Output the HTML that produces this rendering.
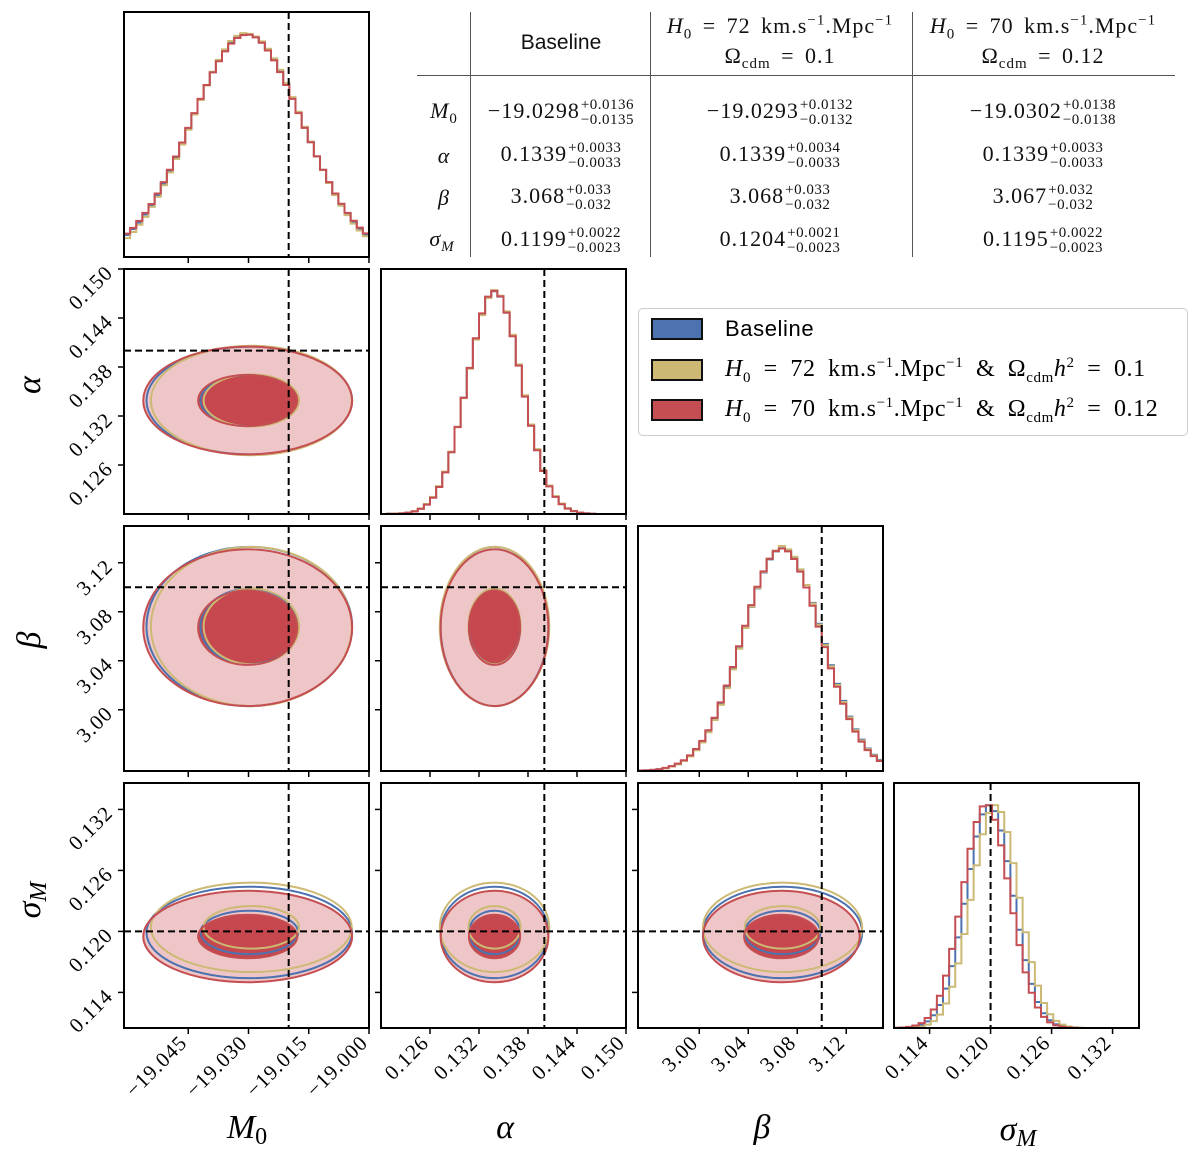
<!DOCTYPE html>
<html><head><meta charset="utf-8">
<style>
body{margin:0;background:#fff;width:1200px;height:1152px;position:relative;overflow:hidden;font-family:"Liberation Serif","DejaVu Serif",serif;}
svg{position:absolute;left:0;top:0}
.t{position:absolute;font-size:22px;color:#111;white-space:nowrap;transform:translate(-50%,-50%);letter-spacing:1px;word-spacing:4px}
.ss{display:inline-flex;flex-direction:column;font-size:15px;line-height:15px;vertical-align:middle;margin-left:1px;letter-spacing:0.5px}
.sans{font-family:"Liberation Sans",sans-serif;letter-spacing:0}
i{font-style:italic}
sub,sup{font-size:15px}
.leg{position:absolute;left:638px;top:308px;width:548px;height:126px;border:1px solid #ccc;border-radius:5px;background:#fff}
.le{position:absolute;left:12px;width:52px;height:22px;border:2px solid #111;box-sizing:border-box}
.lt{position:absolute;left:86px;font-size:24px;white-space:nowrap;letter-spacing:0.6px;word-spacing:6px}
</style></head><body>
<svg id="chart" width="1200" height="1152"></svg>

<div>
<div style="position:absolute;left:417px;top:75px;width:758px;height:1px;background:#555"></div>
<div style="position:absolute;left:470px;top:12px;width:1px;height:245px;background:#555"></div>
<div style="position:absolute;left:650px;top:12px;width:1px;height:245px;background:#555"></div>
<div style="position:absolute;left:912px;top:12px;width:1px;height:245px;background:#555"></div>
<div class="t sans" style="left:561px;top:43px;font-size:21px">Baseline</div>
<div class="t" style="left:780px;top:28px"><i>H</i><sub>0</sub> = 72 km.s<sup>−1</sup>.Mpc<sup>−1</sup></div>
<div class="t" style="left:780px;top:58px">Ω<sub>cdm</sub> = 0.1</div>
<div class="t" style="left:1043px;top:28px"><i>H</i><sub>0</sub> = 70 km.s<sup>−1</sup>.Mpc<sup>−1</sup></div>
<div class="t" style="left:1043px;top:58px">Ω<sub>cdm</sub> = 0.12</div>
<div class="t" style="left:444px;top:113px"><i>M</i><sub>0</sub></div>
<div class="t" style="left:444px;top:156px"><i>α</i></div>
<div class="t" style="left:444px;top:198px"><i>β</i></div>
<div class="t" style="left:442px;top:241px"><i>σ</i><sub><i>M</i></sub></div>
<div id="tvals"></div>
</div>

<div class="leg">
<div class="le" style="top:9px;background:#4c72b0"></div>
<div class="lt sans" style="top:7px;font-size:22px">Baseline</div>
<div class="le" style="top:50px;background:#ccb974"></div>
<div class="lt" style="top:46px"><i>H</i><sub>0</sub> = 72 km.s<sup>−1</sup>.Mpc<sup>−1</sup> &amp; Ω<sub>cdm</sub><i>h</i><sup>2</sup> = 0.1</div>
<div class="le" style="top:90px;background:#c44e52"></div>
<div class="lt" style="top:86px"><i>H</i><sub>0</sub> = 70 km.s<sup>−1</sup>.Mpc<sup>−1</sup> &amp; Ω<sub>cdm</sub><i>h</i><sup>2</sup> = 0.12</div>
</div>

<script>
const tableVals = [
 [["−19.0298","+0.0136","−0.0135"],["−19.0293","+0.0132","−0.0132"],["−19.0302","+0.0138","−0.0138"]],
 [["0.1339","+0.0033","−0.0033"],["0.1339","+0.0034","−0.0033"],["0.1339","+0.0033","−0.0033"]],
 [["3.068","+0.033","−0.032"],["3.068","+0.033","−0.032"],["3.067","+0.032","−0.032"]],
 [["0.1199","+0.0022","−0.0023"],["0.1204","+0.0021","−0.0023"],["0.1195","+0.0022","−0.0023"]]
];
const ranges = [[-19.061,-19.0],[0.120,0.150],[2.95,3.15],[0.1105,0.1346]];
const truths = [-19.02,0.140,3.10,0.120];
const xTicks = [[-19.045,-19.030,-19.015,-19.000],[0.126,0.132,0.138,0.144,0.150],[3.00,3.04,3.08,3.12],[0.114,0.120,0.126,0.132]];
const xTickLabels = [["−19.045","−19.030","−19.015","−19.000"],["0.126","0.132","0.138","0.144","0.150"],["3.00","3.04","3.08","3.12"],["0.114","0.120","0.126","0.132"]];
const axisLabels = ["M","α","β","σ"];
const seriesNames = ["baseline","h72","h70"];
const means = [[-19.0298,0.1339,3.068,0.1199],[-19.0293,0.1339,3.068,0.1204],[-19.0302,0.1339,3.067,0.1195]];
const sds = [[0.0128,0.0033,0.0325,0.00225],[0.0125,0.00335,0.0325,0.0022],[0.013,0.0033,0.032,0.00225]];
const histM0 = [
 [0.099,0.125,0.155,0.191,0.232,0.278,0.330,0.386,0.446,0.510,0.576,0.643,0.708,0.772,0.830,0.882,0.927,0.962,0.986,0.998,0.999,0.987,0.964,0.930,0.887,0.835,0.777,0.714,0.649,0.582,0.516,0.452,0.391,0.335,0.282,0.236,0.194,0.158,0.127,0.101],
 [0.085,0.112,0.145,0.180,0.225,0.270,0.322,0.380,0.440,0.505,0.572,0.640,0.705,0.770,0.832,0.885,0.932,0.970,0.993,1.005,1.002,0.990,0.968,0.935,0.892,0.840,0.781,0.718,0.652,0.585,0.518,0.452,0.390,0.332,0.278,0.230,0.188,0.150,0.119,0.093],
 [0.105,0.131,0.162,0.198,0.238,0.285,0.336,0.392,0.451,0.514,0.580,0.646,0.710,0.772,0.829,0.879,0.923,0.958,0.983,0.996,0.998,0.986,0.962,0.927,0.883,0.830,0.772,0.710,0.646,0.580,0.515,0.452,0.392,0.336,0.285,0.239,0.198,0.163,0.132,0.106]
];
const histAlpha = [
 [0,0.001,0.001,0.003,0.006,0.012,0.024,0.043,0.074,0.122,0.188,0.278,0.391,0.522,0.655,0.788,0.899,0.974,1.0,0.976,0.904,0.799,0.667,0.528,0.397,0.287,0.194,0.125,0.078,0.045,0.025,0.013,0.007,0.003,0.001,0,0,0,0,0],
 [0,0.001,0.002,0.003,0.006,0.013,0.025,0.045,0.077,0.125,0.190,0.280,0.392,0.520,0.652,0.783,0.893,0.970,1.005,0.980,0.910,0.805,0.672,0.533,0.402,0.291,0.198,0.128,0.080,0.047,0.026,0.014,0.007,0.003,0.001,0,0,0,0,0],
 [0,0.001,0.001,0.003,0.006,0.012,0.023,0.042,0.073,0.121,0.187,0.277,0.390,0.522,0.656,0.789,0.901,0.976,1.002,0.977,0.904,0.798,0.666,0.527,0.396,0.286,0.193,0.124,0.077,0.044,0.024,0.013,0.006,0.003,0.001,0,0,0,0,0]
];
const histBeta = [
 [0.002,0.003,0.005,0.008,0.013,0.021,0.031,0.046,0.067,0.095,0.130,0.177,0.232,0.300,0.375,0.458,0.551,0.643,0.737,0.820,0.891,0.950,0.986,1.0,0.990,0.959,0.904,0.835,0.755,0.661,0.570,0.475,0.391,0.315,0.244,0.187,0.141,0.101,0.073,0.050],
 [0.002,0.003,0.004,0.007,0.012,0.020,0.030,0.045,0.065,0.093,0.128,0.174,0.229,0.297,0.372,0.456,0.549,0.642,0.738,0.822,0.894,0.954,0.990,1.01,0.995,0.962,0.905,0.835,0.752,0.657,0.565,0.470,0.386,0.310,0.240,0.183,0.137,0.098,0.070,0.047],
 [0.002,0.003,0.005,0.008,0.014,0.022,0.033,0.048,0.070,0.099,0.135,0.183,0.239,0.308,0.384,0.467,0.560,0.652,0.745,0.827,0.896,0.953,0.987,0.999,0.986,0.952,0.895,0.824,0.742,0.648,0.556,0.461,0.378,0.302,0.233,0.177,0.132,0.094,0.067,0.045]
];
const histSigma = [
 [0,0.001,0.003,0.007,0.014,0.030,0.057,0.103,0.177,0.278,0.407,0.558,0.714,0.860,0.959,1.0,0.974,0.887,0.749,0.594,0.441,0.305,0.198,0.117,0.066,0.035,0.017,0.008,0.003,0.001,0,0,0,0,0,0,0,0,0,0],
 [0,0,0.001,0.003,0.007,0.015,0.031,0.060,0.110,0.185,0.290,0.422,0.575,0.730,0.870,0.965,1.0,0.970,0.880,0.740,0.585,0.430,0.296,0.190,0.112,0.062,0.032,0.015,0.007,0.003,0.001,0,0,0,0,0,0,0,0,0],
 [0.001,0.002,0.005,0.011,0.022,0.045,0.083,0.145,0.235,0.355,0.500,0.655,0.805,0.925,0.995,1.0,0.935,0.820,0.672,0.515,0.372,0.250,0.158,0.092,0.050,0.025,0.012,0.005,0.002,0.001,0,0,0,0,0,0,0,0,0,0]
];
const hists = [histM0, histAlpha, histBeta, histSigma];
const colors = ["#4c72b0","#ccb974","#c44e52"];
const levels = [0.95, 2.0];

const NS="http://www.w3.org/2000/svg";
const svg=document.getElementById('chart');
const colX=[124,381,638,894], rowY=[12,269,526,783], S=245;
function mk(tag,attrs,parent){const e=document.createElementNS(NS,tag);for(const k in attrs)e.setAttribute(k,attrs[k]);(parent||svg).appendChild(e);return e;}
function sx(p,c,v){const r=ranges[p];return colX[c]+(v-r[0])/(r[1]-r[0])*S;}
function sy(p,row,v){const r=ranges[p];return rowY[row]+S-(v-r[0])/(r[1]-r[0])*S;}

const tv=document.getElementById('tvals');
const tcx=[561,780,1043], tcy=[113,156,198,241];
tableVals.forEach((row,i)=>row.forEach((c,j)=>{
  const d=document.createElement('div');d.className='t';d.style.left=tcx[j]+'px';d.style.top=tcy[i]+'px';
  d.innerHTML=c[0]+'<span class="ss"><span>'+c[1]+'</span><span>'+c[2]+'</span></span>';
  
  
  tv.appendChild(d);
}));

const defs=mk('defs',{});
for(let r=0;r<4;r++)for(let c=0;c<=r;c++){
  const cp=mk('clipPath',{id:'cp'+r+c},defs);mk('rect',{x:colX[c],y:rowY[r],width:S,height:S},cp);
}

for(let r=0;r<4;r++)for(let c=0;c<=r;c++){
  const g=mk('g',{'clip-path':'url(#cp'+r+c+')'});
  
  
  const x0=colX[c],y0=rowY[r];
  if(r===c){
    const p=r, rg=ranges[p];
    hists[p].forEach((h,s)=>{
      const n=h.length;let d='';
      for(let i=0;i<n;i++){
        const xa=sx(p,c,rg[0]+(rg[1]-rg[0])*i/n), xb=sx(p,c,rg[0]+(rg[1]-rg[0])*(i+1)/n);
        const y=y0+S-h[i]/1.1*S;
        d+=(i===0?'M'+xa+','+(y0+S)+'L':'L')+xa+','+y+'L'+xb+','+y;
      }
      d+='L'+sx(p,c,rg[1])+','+(y0+S);
      const e=mk('path',{d:d,fill:'none',stroke:colors[s],'stroke-width':2},g);
      
      
    });
    const tl=mk('line',{x1:sx(p,c,truths[p]),x2:sx(p,c,truths[p]),y1:y0,y2:y0+S,stroke:'#000','stroke-width':2,'stroke-dasharray':'7,4'},g);
    
    
  } else {
    const px=c, py=r;
    const ell=(s,k)=>({cx:sx(px,c,means[s][px]),cy:sy(py,r,means[s][py]),rx:k*sds[s][px]/(ranges[px][1]-ranges[px][0])*S,ry:k*sds[s][py]/(ranges[py][1]-ranges[py][0])*S});
    const o=mk('ellipse',Object.assign(ell(2,levels[1]),{fill:'#efc6c7'}),g);
    
    
    const inn=mk('ellipse',Object.assign(ell(2,levels[0]),{fill:'#c6474d'}),g);
    
    
    [0,1,2].forEach(s=>levels.forEach(k=>{
      const e=mk('ellipse',Object.assign(ell(s,k),{fill:'none',stroke:colors[s],'stroke-width':2}),g);
      
      
    }));
    const vl=mk('line',{x1:sx(px,c,truths[px]),x2:sx(px,c,truths[px]),y1:y0,y2:y0+S,stroke:'#000','stroke-width':2,'stroke-dasharray':'7,4'},g);
    
    
    const hl=mk('line',{x1:x0,x2:x0+S,y1:sy(py,r,truths[py]),y2:sy(py,r,truths[py]),stroke:'#000','stroke-width':2,'stroke-dasharray':'7,4'},g);
    
    
  }
  const fr=mk('rect',{x:x0,y:y0,width:S,height:S,fill:'none',stroke:'#000','stroke-width':2});
  
  
  xTicks[c].forEach((v,i)=>{
    const x=sx(c,c,v);
    mk('line',{x1:x,x2:x,y1:y0+S,y2:y0+S+6,stroke:'#000','stroke-width':1.5});
    if(r===3){
      const t=mk('text',{x:x,y:y0+S+16,'text-anchor':'end','font-size':21,'letter-spacing':1,transform:'rotate(-45 '+x+' '+(y0+S+16)+')','font-family':'Liberation Serif, serif'});
      t.textContent=xTickLabels[c][i];
      
      
    }
  });
  if(r!==c){
    xTicks[r].forEach((v,i)=>{
      const y=sy(r,r,v);
      if(y<y0-0.5||y>y0+S+0.5)return;
      mk('line',{x1:x0-6,x2:x0,y1:y,y2:y,stroke:'#000','stroke-width':1.5});
      if(c===0){
        const t=mk('text',{x:x0-10,y:y+5,'text-anchor':'end','font-size':21,'letter-spacing':1,transform:'rotate(-45 '+(x0-10)+' '+(y+5)+')','font-family':'Liberation Serif, serif'});
        t.textContent=xTickLabels[r][i];
        
        
      }
    });
  }
}
const xt=[[247,1138],[505,1138],[762,1138],[1018,1140]];
const subs=["0","","","M"];
xt.forEach((p,i)=>{
  const t=mk('text',{x:p[0],y:p[1],'text-anchor':'middle','font-size':34,'font-style':'italic','font-family':'Liberation Serif, serif'});
  t.textContent=axisLabels[i];
  if(subs[i]){const s=mk('tspan',{'font-size':24,dy:6,'font-style':subs[i]==='M'?'italic':'normal'},t);s.textContent=subs[i];}
  
  
});
const yt=[[0,0],[30,385],[30,640],[30,900]];
for(let i=1;i<4;i++){
  const t=mk('text',{x:yt[i][0],y:yt[i][1],'text-anchor':'middle','font-size':34,'font-style':'italic','font-family':'Liberation Serif, serif',transform:'rotate(-90 '+yt[i][0]+' '+yt[i][1]+')',dy:10});
  t.textContent=axisLabels[i];
  if(subs[i]){const s=mk('tspan',{'font-size':24,dy:6},t);s.textContent=subs[i];}
  
  
}
</script>
</body></html>
